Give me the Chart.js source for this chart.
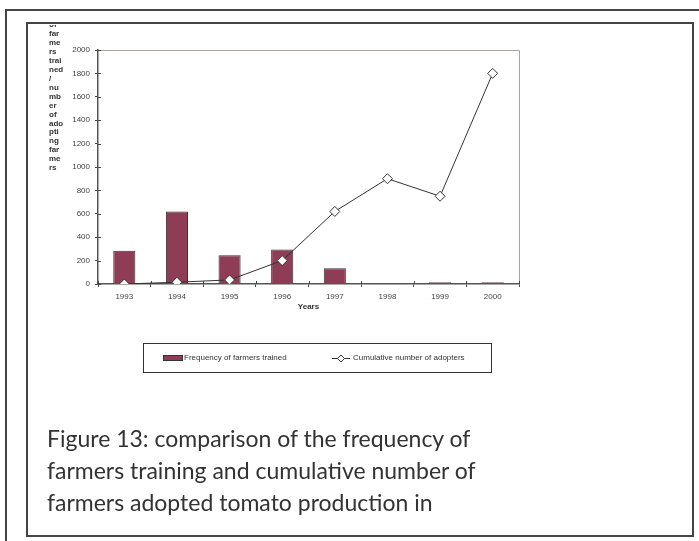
<!DOCTYPE html>
<html>
<head>
<meta charset="utf-8">
<script src="https://cdn.jsdelivr.net/npm/chart.js@4"></script>
<style>
body { margin: 0; background: #fff; }
#page { position: relative; width: 699px; height: 541px; overflow: hidden; background: #fff; }
#outer { position: absolute; left: 5px; top: 9px; width: 720px; height: 560px; border-left: 2px solid #444; border-top: 2px solid #444; }
#inner { position: absolute; left: 26px; top: 22px; width: 664px; height: 511px; border: 2px solid #444; }
#chart { position: absolute; left: 0; top: 0; }
.cap { position: absolute; left: 47px; height: 32px; line-height: 32px; font-family: Lato, sans-serif; font-size: 23px; color: #333; white-space: nowrap; }
</style>
</head>
<body>
<div id="page">
  <div id="outer"></div>
  <div id="inner"></div>
  <canvas id="chart" width="699" height="541"></canvas>
  <div class="cap" style="top:422px">Figure 13: comparison of the frequency of</div>
  <div class="cap" style="top:454px">farmers training and cumulative number of</div>
  <div class="cap" style="top:486px">farmers adopted tomato production in</div>
</div>
<script>
// datos
const years = ['1993', '1994', '1995', '1996', '1997', '1998', '1999', '2000'];
const farmersTrained = [285, 620, 245, 295, 135, 0, 15, 15];
const cumulativeAdopters = [0, 15, 35, 200, 620, 900, 750, 1800];
const yTicks = [0, 200, 400, 600, 800, 1000, 1200, 1400, 1600, 1800, 2000];
// título del eje Y, cortado en trozos como en la figura original
const yTitleLines = ['of', 'far', 'me', 'rs', 'trai', 'ned', '/', 'nu', 'mb', 'er', 'of', 'ado', 'pti', 'ng', 'far', 'me', 'rs'];

const FONT = 'Liberation Sans';
const BAR_COLOR = '#8f3c56';
const INK = '#333';

// borde del área de trazado, marcas hacia dentro, título Y y leyenda
const extras = {
    id: 'extras',
    beforeDatasetsDraw(chart) {
        const { ctx, chartArea: a, scales } = chart;
        ctx.save();
        ctx.strokeStyle = '#aaa49e';
        ctx.lineWidth = 1;
        ctx.beginPath();
        ctx.moveTo(a.left, a.top + 0.5);
        ctx.lineTo(a.right + 0.5, a.top + 0.5);
        ctx.lineTo(a.right + 0.5, a.bottom);
        ctx.stroke();
        ctx.strokeStyle = '#444';
        ctx.beginPath();
        yTicks.forEach(v => {
            const y = Math.round(scales.y.getPixelForValue(v)) + 0.5;
            ctx.moveTo(a.left, y);
            ctx.lineTo(a.left + 3, y);
        });
        for (let i = 0; i <= years.length; i++) {
            const x = Math.round(scales.x.getPixelForValue(i - 0.5)) + 0.5;
            ctx.moveTo(x, a.bottom);
            ctx.lineTo(x, a.bottom - 3);
        }
        ctx.stroke();
        ctx.restore();
    },
    afterDraw(chart) {
        const ctx = chart.ctx;
        ctx.save();
        // título del eje Y
        ctx.beginPath();
        ctx.rect(28, 25, 60, 200);
        ctx.clip();
        ctx.fillStyle = INK;
        ctx.font = 'bold 8px ' + FONT;
        ctx.textAlign = 'left';
        ctx.textBaseline = 'middle';
        yTitleLines.forEach((t, i) => ctx.fillText(t, 49, 25 + i * 8.94));
        ctx.restore();

        // leyenda
        ctx.save();
        ctx.strokeStyle = INK;
        ctx.lineWidth = 1;
        ctx.strokeRect(143.5, 343.5, 348, 29);
        const ly = 358;
        const bar = chart.data.datasets[0];
        const line = chart.data.datasets[1];
        ctx.fillStyle = bar.backgroundColor;
        ctx.fillRect(163, ly - 3, 20, 6);
        ctx.strokeStyle = INK;
        ctx.strokeRect(163.5, ly - 2.5, 19, 5);
        ctx.fillStyle = INK;
        ctx.font = '8px ' + FONT;
        ctx.textBaseline = 'middle';
        ctx.fillText(bar.label, 184, ly);
        ctx.beginPath();
        ctx.moveTo(332, ly + 0.5);
        ctx.lineTo(350, ly + 0.5);
        ctx.stroke();
        ctx.fillStyle = '#fff';
        ctx.strokeStyle = INK;
        ctx.lineWidth = 1;
        Chart.helpers.drawPoint(ctx, { pointStyle: 'rectRot', radius: 3.5, rotation: 0, borderWidth: 1 }, 341, ly + 0.5);
        ctx.fillStyle = INK;
        ctx.fillText(line.label, 353, ly);
        ctx.restore();
    }
};

new Chart(document.getElementById('chart'), {
    type: 'bar',
    data: {
        labels: years,
        datasets: [{
            type: 'bar',
            label: 'Frequency of farmers trained',
            data: farmersTrained,
            backgroundColor: BAR_COLOR,
            borderColor: INK,
            borderWidth: 1,
            barPercentage: 0.42,
            categoryPercentage: 1,
            order: 2
        }, {
            type: 'line',
            label: 'Cumulative number of adopters',
            data: cumulativeAdopters,
            borderColor: INK,
            borderWidth: 1,
            pointStyle: 'rectRot',
            pointRadius: 5,
            pointBackgroundColor: '#fff',
            pointBorderColor: INK,
            pointBorderWidth: 1,
            tension: 0,
            order: 1
        }]
    },
    options: {
        responsive: false,
        devicePixelRatio: 1,
        animation: false,
        layout: { padding: { left: 0, top: 50, right: 180, bottom: 227 } },
        plugins: { legend: { display: false }, tooltip: { enabled: false } },
        scales: {
            x: {
                afterFit: s => { s.height = 30; },
                grid: { drawOnChartArea: false, tickLength: 3, color: '#444', offset: true },
                border: { color: '#555', width: 1.5 },
                ticks: { color: '#444', font: { family: FONT, size: 8 }, padding: 5, maxRotation: 0 },
                title: { display: true, text: 'Years', color: INK, font: { family: FONT, size: 8, weight: 'bold' }, padding: { top: 0, bottom: 2 } }
            },
            y: {
                min: 0,
                max: 2000,
                afterFit: s => { s.width = 98; },
                afterBuildTicks: s => { s.ticks = yTicks.map(v => ({ value: v })); },
                grid: { drawOnChartArea: false, tickLength: 3, color: '#444' },
                border: { color: '#555', width: 1.5 },
                ticks: { color: '#444', font: { family: FONT, size: 8 }, padding: 5, callback: v => String(v) }
            }
        }
    },
    plugins: [extras]
});
</script>
</body>
</html>
